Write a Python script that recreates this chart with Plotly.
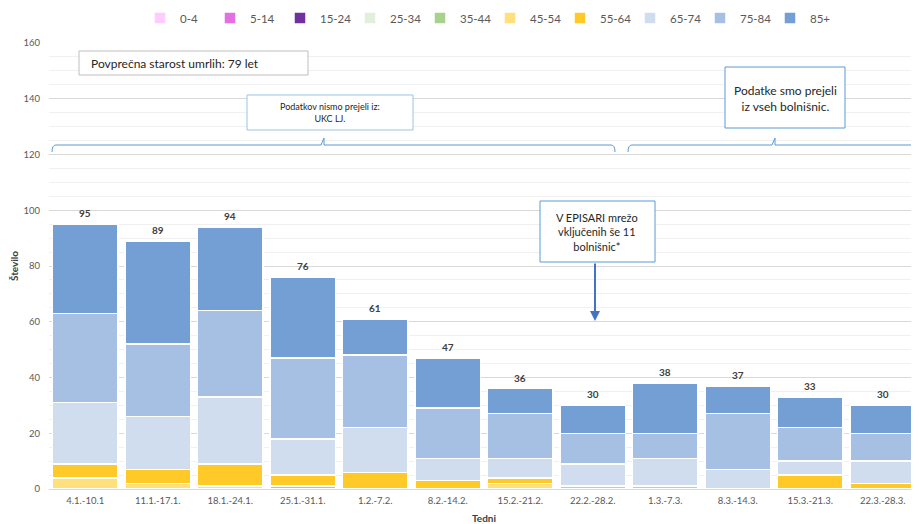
import plotly.graph_objects as go

weeks = ["4.1.-10.1", "11.1.-17.1.", "18.1.-24.1.", "25.1.-31.1.", "1.2.-7.2.", "8.2.-14.2.",
         "15.2.-21.2.", "22.2.-28.2.", "1.3.-7.3.", "8.3.-14.3.", "15.3.-21.3.", "22.3.-28.3."]

age_groups = ["0-4", "5-14", "15-24", "25-34", "35-44", "45-54", "55-64", "65-74", "75-84", "85+"]

v_0_4   = [0, 0, 0, 0, 0, 0, 0, 0, 0, 0, 0, 0]
v_5_14  = [0, 0, 0, 0, 0, 0, 0, 0, 0, 0, 0, 0]
v_15_24 = [0, 0, 0, 0, 0, 0, 0, 0, 0, 0, 0, 0]
v_25_34 = [0, 0, 0, 0, 0, 0, 0, 0, 0, 0, 0, 0]
v_35_44 = [0, 0, 0, 1, 0, 0, 0, 0, 0, 0, 0, 0]
v_45_54 = [4, 2, 1, 0, 0, 0, 2, 0, 0, 0, 0, 0]
v_55_64 = [5, 5, 8, 4, 6, 3, 2, 1, 1, 0, 5, 2]
v_65_74 = [22, 19, 24, 13, 16, 8, 7, 8, 10, 7, 5, 8]
v_75_84 = [32, 26, 31, 29, 26, 18, 16, 11, 9, 20, 12, 10]
v_85p   = [32, 37, 30, 29, 13, 18, 9, 10, 18, 10, 11, 10]

series = [v_0_4, v_5_14, v_15_24, v_25_34, v_35_44, v_45_54, v_55_64, v_65_74, v_75_84, v_85p]
colors = ["#FFCCFF", "#E36FE0", "#7030A0", "#E2EFDA", "#A9D18E", "#FFE07A",
          "#FFCA28", "#D0DDEF", "#A6C0E4", "#739FD5"]

totals = [sum(s[i] for s in series) for i in range(len(weeks))]

fig = go.Figure()
for name, vals, col in zip(age_groups, series, colors):
    fig.add_trace(go.Bar(x=weeks, y=vals, name=name, marker=dict(color=col, line=dict(color="white", width=1.5))))

FONT = "Lato"
OFF = 8  # page body margin
W, H = 919 - OFF, 524 - OFF
ML, MR, MT, MB = 49 - OFF, 0, 43 - OFF, 35
PW, PH = W - ML - MR, H - MT - MB

def px(x):
    return (x - OFF - ML) / PW

def py(y):
    return (H - MB - (y - OFF)) / PH

annotations = []
for w, t in zip(weeks, totals):
    annotations.append(dict(x=w, y=t, xref="x", yref="y", text="<b>%d</b>" % t, showarrow=False,
                            yshift=11, font=dict(size=10, color="#404040", family=FONT)))

shapes = []
# Box 1
shapes.append(dict(type="rect", xref="paper", yref="paper", x0=px(79), x1=px(308), y0=py(75), y1=py(51),
                   line=dict(color="#BFBFBF", width=1), fillcolor="white", layer="above"))
annotations.append(dict(xref="paper", yref="paper", x=px(89), y=py(63), xanchor="left", yanchor="middle",
                        text="Povprečna starost umrlih: 79 let", showarrow=False,
                        font=dict(size=12, color="#262626", family=FONT)))
# Box 2
shapes.append(dict(type="rect", xref="paper", yref="paper", x0=px(247), x1=px(413), y0=py(130), y1=py(95),
                   line=dict(color="#9DC3E6", width=1), fillcolor="white", layer="above"))
annotations.append(dict(xref="paper", yref="paper", x=px(330), y=py(112), xanchor="center", yanchor="middle",
                        text="Podatkov nismo prejeli iz:<br>UKC LJ.", showarrow=False,
                        font=dict(size=9, color="#262626", family=FONT)))
# Box 3
shapes.append(dict(type="rect", xref="paper", yref="paper", x0=px(725), x1=px(845), y0=py(128), y1=py(67),
                   line=dict(color="#5B9BD5", width=1), fillcolor="white", layer="above"))
annotations.append(dict(xref="paper", yref="paper", x=px(785), y=py(98), xanchor="center", yanchor="middle",
                        text="Podatke smo prejeli<br>iz vseh bolnišnic.", showarrow=False,
                        font=dict(size=12, color="#262626", family=FONT)))
# Box 4
shapes.append(dict(type="rect", xref="paper", yref="paper", x0=px(540), x1=px(655), y0=py(262), y1=py(201),
                   line=dict(color="#5B9BD5", width=1), fillcolor="white", layer="above"))
annotations.append(dict(xref="paper", yref="paper", x=px(597), y=py(232), xanchor="center", yanchor="middle",
                        text="V EPISARI mrežo<br>vključenih še 11<br>bolnišnic*", showarrow=False,
                        font=dict(size=11, color="#262626", family=FONT)))
# Arrow
annotations.append(dict(xref="paper", yref="paper", x=px(595), y=py(321), ax=0, ay=-(321 - 262),
                        text="", showarrow=True, arrowhead=2, arrowsize=1,
                        arrowwidth=2, arrowcolor="#4472C4"))

# Braces
def brace(x0, xm, x1, yb, ytop, yend, right_curl=True):
    p = "M %f %f Q %f %f %f %f L %f %f L %f %f L %f %f L %f %f L %f %f" % (
        px(x0), py(yend), px(x0), py(yb), px(x0 + 4), py(yb),
        px(xm - 3), py(yb), px(xm), py(ytop), px(xm), py(yb), px(xm + 3), py(yb), px(x1 - 4 if right_curl else x1), py(yb))
    if right_curl:
        p += " Q %f %f %f %f" % (px(x1), py(yb), px(x1), py(yend))
    return p

shapes.append(dict(type="path", xref="paper", yref="paper", path=brace(52, 324, 615, 145, 138, 152),
                   line=dict(color="#5B9BD5", width=1)))
shapes.append(dict(type="path", xref="paper", yref="paper", path=brace(628, 775, 919, 145, 138, 152, right_curl=False),
                   line=dict(color="#5B9BD5", width=1)))

fig.update_layout(
    barmode="stack",
    bargap=0.09,
    width=W, height=H,
    margin=dict(l=ML, r=MR, t=MT, b=MB, autoexpand=False),
    plot_bgcolor="white", paper_bgcolor="white",
    font=dict(family=FONT, color="#595959"),
    showlegend=True,
    legend=dict(orientation="h", xref="container", yref="container",
                x=(162 - OFF - 22) / W, xanchor="left", y=1 - (18 - OFF) / H, yanchor="middle",
                font=dict(size=11.5, color="#595959", family=FONT), traceorder="normal",
                itemwidth=30, entrywidth=25, entrywidthmode="pixels"),
    xaxis=dict(title=dict(text="<b>Tedni</b>", font=dict(size=10, color="#404040"), standoff=9),
               tickfont=dict(size=9.5, color="#595959"), showline=True, linecolor="#D9D9D9",
               ticks="", range=[-0.5, 11.5], automargin=False, ticklabelstandoff=3),
    yaxis=dict(title=dict(text="<b>Število</b>", font=dict(size=10, color="#404040"), standoff=5),
               range=[0, 160], dtick=20, tickfont=dict(size=9.5, color="#595959"),
               gridcolor="#D9D9D9", gridwidth=1, zeroline=False, automargin=False,
               ticklabelstandoff=8,
               minor=dict(dtick=5, showgrid=True, gridcolor="#F0F0F0", gridwidth=1)),
    annotations=annotations,
    shapes=shapes,
)

fig.write_html("out.html")
